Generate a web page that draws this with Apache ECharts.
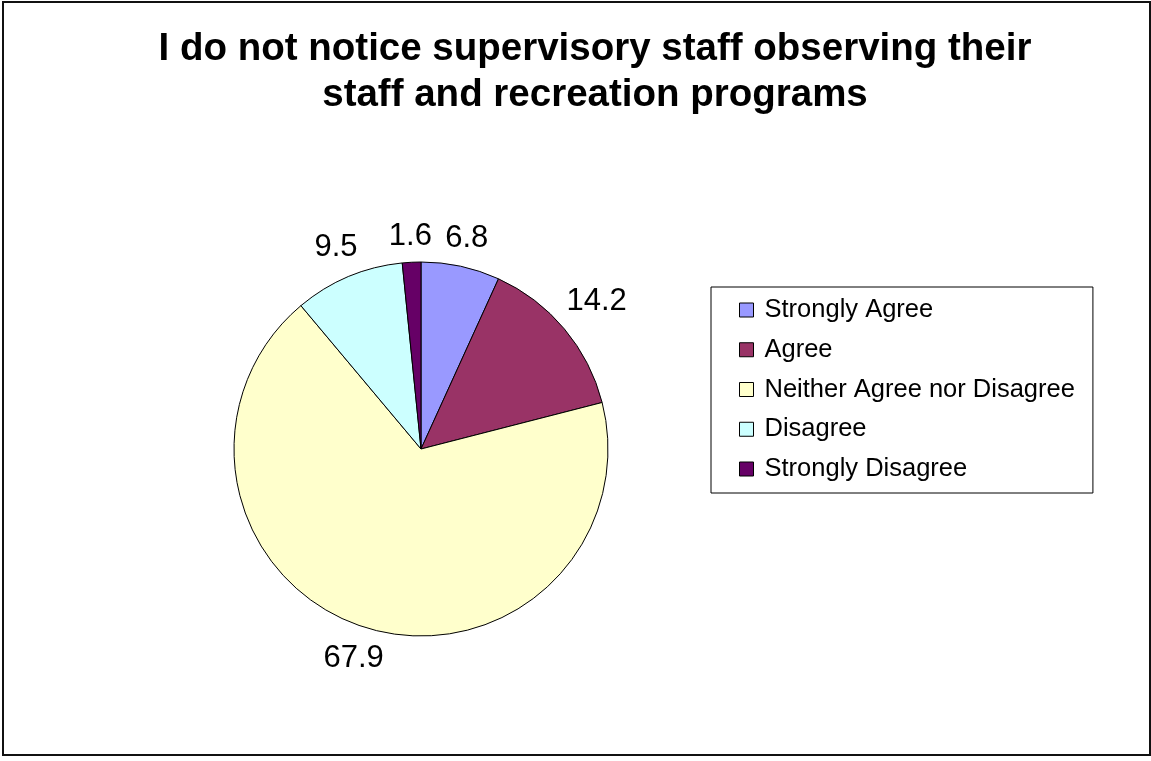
<!DOCTYPE html>
<html>
<head>
<meta charset="utf-8">
<style>
  html, body { margin: 0; padding: 0; background: #fff; }
  #chart { width: 1151px; height: 761px; }
</style>
<script src="https://cdn.jsdelivr.net/npm/echarts@6/dist/echarts.min.js"></script>
</head>
<body>
<div id="chart"></div>
<script>
// Survey responses (percent of respondents)
const categories = ['Strongly Agree', 'Agree', 'Neither Agree nor Disagree', 'Disagree', 'Strongly Disagree'];
const percentages = [6.8, 14.2, 67.9, 9.5, 1.6];
const sliceColors = ['#9999FF', '#993366', '#FFFFCC', '#CCFFFF', '#660066'];
const chartTitle = 'I do not notice supervisory staff observing their\nstaff and recreation programs';

const FONT = "'Liberation Sans', Arial, sans-serif";
const CENTER = [421, 449];
const RADIUS = 187;
const LABEL_GAP = 9;

const sliceData = categories.map((name, i) => ({
  name,
  value: percentages[i],
  itemStyle: { color: sliceColors[i] }
}));

// Push each value label just outside the rim along its slice's mid-angle,
// keeping the whole label box clear of the circle.
function placeOutside(params) {
  const r = params.labelRect;
  const lx = r.x + r.width / 2;
  const ly = r.y + r.height / 2;
  const dx = lx - CENTER[0];
  const dy = ly - CENTER[1];
  const len = Math.sqrt(dx * dx + dy * dy) || 1;
  const ux = dx / len, uy = dy / len;
  const extent = Math.abs(ux) * r.width / 2 + Math.abs(uy) * r.height / 2;
  const dist = RADIUS + LABEL_GAP + extent;
  return {
    x: CENTER[0] + ux * dist,
    y: CENTER[1] + uy * dist,
    align: 'center',
    verticalAlign: 'middle'
  };
}

const chart = echarts.init(document.getElementById('chart'), null, { renderer: 'canvas' });

chart.setOption({
  backgroundColor: '#ffffff',
  animation: false,
  title: {
    text: chartTitle,
    left: 595,
    top: 26,
    padding: 0,
    textAlign: 'center',
    textStyle: {
      fontFamily: FONT,
      fontSize: 38.5,
      fontWeight: 'bold',
      color: '#000',
      lineHeight: 46
    }
  },
  legend: {
    orient: 'vertical',
    left: 711,
    top: 287,
    padding: [10, 18, 11, 28],
    itemWidth: 14,
    itemHeight: 14,
    itemGap: 13.75,
    icon: 'rect',
    borderColor: '#000',
    borderWidth: 1,
    backgroundColor: '#fff',
    selectedMode: false,
    itemStyle: { borderColor: '#000', borderWidth: 1 },
    textStyle: {
      fontFamily: FONT,
      fontSize: 25.5,
      lineHeight: 26,
      color: '#000',
      padding: [0, 0, 0, 6]
    },
    data: categories
  },
  graphic: [{
    // frame around the whole chart area
    type: 'rect',
    shape: { x: 3, y: 2, width: 1147, height: 753 },
    style: { fill: 'none', stroke: '#111', lineWidth: 2 },
    silent: true,
    z: 100
  }],
  series: [{
    type: 'pie',
    center: CENTER,
    radius: [0, RADIUS],
    startAngle: 90,
    clockwise: true,
    avoidLabelOverlap: false,
    emphasis: { disabled: true },
    itemStyle: { borderColor: '#000', borderWidth: 1 },
    labelLine: { show: false },
    label: {
      show: true,
      position: 'inside',
      formatter: p => p.value.toFixed(1),
      fontFamily: FONT,
      fontSize: 31,
      color: '#000'
    },
    labelLayout: placeOutside,
    data: sliceData
  }]
});
</script>
</body>
</html>
